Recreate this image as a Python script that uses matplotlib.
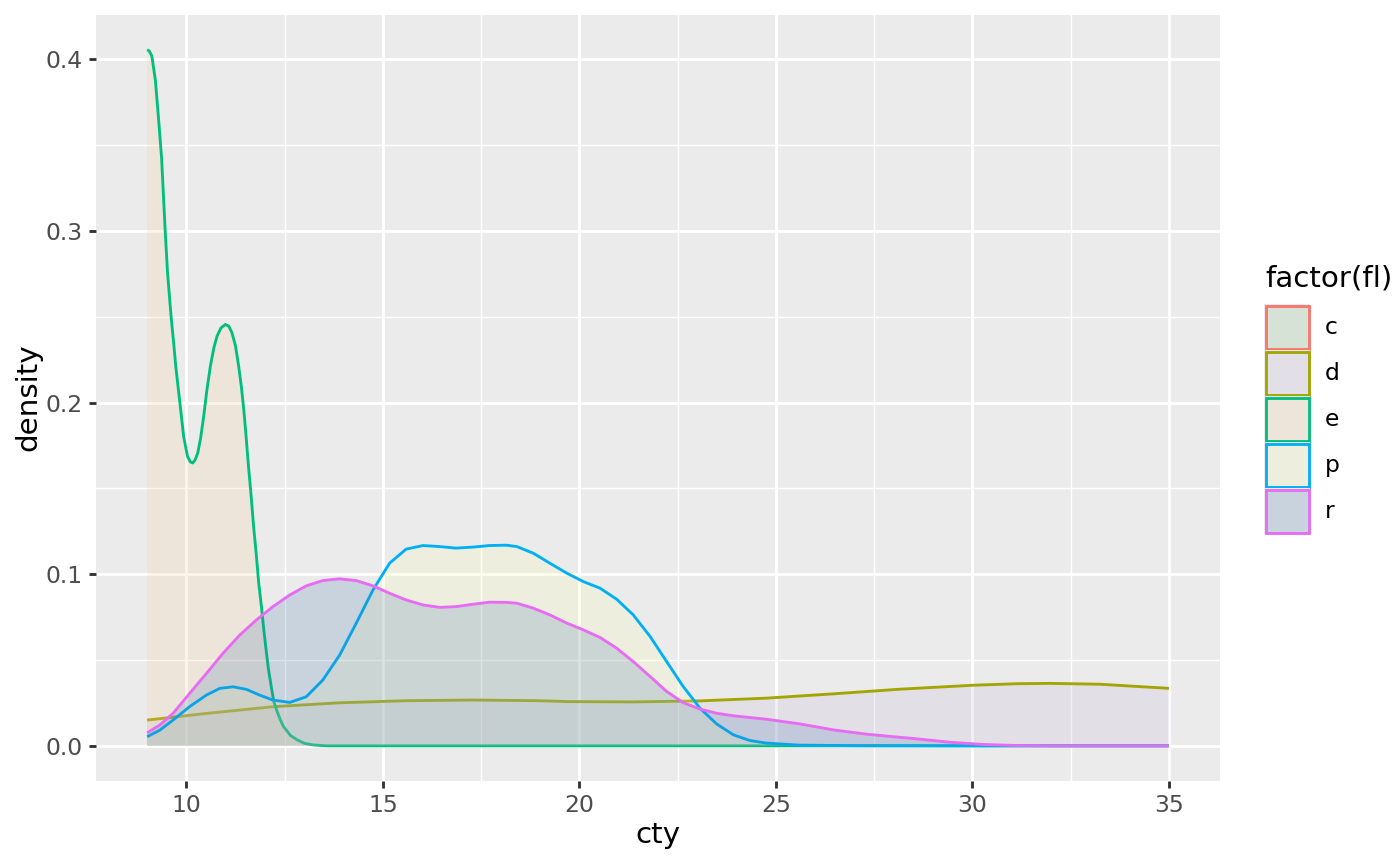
import numpy as np
import matplotlib.pyplot as plt
from matplotlib.patches import Rectangle
from matplotlib.colors import to_rgb

# ============================================================
# density curves of cty by factor(fl)
# (group "c" has a single car, so ggplot draws no curve for it)
# ============================================================
LEVELS = ["c", "d", "e", "p", "r"]
LINE_COLORS = ["#F8766D", "#A3A500", "#00BF7D", "#00B0F6", "#E76BF3"]
FILL_COLORS = ["#7DBE7D", "#BEAFD2", "#FAC896", "#FFFFAA", "#4173AA"]
FILL_ALPHA = 0.2

D_X = [9.0, 10.51, 12.2, 13.9, 15.59, 17.29, 18.98, 19.68, 21.37, 23.07, 24.76,
       26.46, 28.15, 30.0, 31.13, 31.97, 33.25, 35.0]
D_Y = [0.015, 0.0189, 0.0228, 0.0251, 0.0263, 0.0267, 0.0263, 0.0258, 0.0256,
       0.0262, 0.0278, 0.0303, 0.033, 0.0353, 0.0362, 0.0364, 0.0359, 0.0335]

E_X = [9.0, 9.05, 9.12, 9.21, 9.3, 9.37, 9.46, 9.52, 9.61, 9.68, 9.73,
       9.84, 9.93, 10.03, 10.1, 10.16, 10.22, 10.29, 10.36, 10.44, 10.52, 10.61,
       10.7, 10.78, 10.88, 10.99, 11.08, 11.16, 11.25, 11.33, 11.4, 11.46, 11.52,
       11.58, 11.65, 11.71, 11.78, 11.84, 11.91, 11.97, 12.03, 12.09, 12.16,
       12.22, 12.3, 12.39, 12.47, 12.65, 12.82, 13.0, 13.24, 13.6, 20.0, 25.0,
       30.0, 35.0]
E_Y = [0.4055, 0.405, 0.402, 0.388, 0.363, 0.342, 0.3003, 0.2758, 0.2503,
       0.2338, 0.221, 0.1988, 0.1802, 0.1685, 0.1655, 0.1648, 0.1665, 0.1707,
       0.179, 0.192, 0.207, 0.2212, 0.232, 0.2387, 0.2435, 0.2455, 0.2445,
       0.2406, 0.233, 0.2212, 0.209, 0.196, 0.18, 0.1629, 0.145, 0.1279, 0.111,
       0.0949, 0.081, 0.0676, 0.0555, 0.0443, 0.0345, 0.0262, 0.0205, 0.0152,
       0.0113, 0.006, 0.0035, 0.0015, 0.0005, 0.0, 0.0, 0.0, 0.0, 0.0]

P_X = [9.0, 9.32, 9.66, 10.08, 10.51, 10.85, 11.19, 11.53, 11.86, 12.2, 12.63,
       13.05, 13.47, 13.9, 14.32, 14.75, 15.17, 15.59, 16.02, 16.44, 16.86, 17.29,
       17.71, 18.14, 18.41, 18.83, 19.25, 19.68, 20.1, 20.53, 20.95, 21.37, 21.8,
       22.22, 22.64, 23.07, 23.49, 23.92, 24.34, 24.76, 25.61, 27.0, 30.0, 35.0]
P_Y = [0.0053, 0.0091, 0.015, 0.0228, 0.0296, 0.0335, 0.0344, 0.0329, 0.0296,
       0.0267, 0.0253, 0.0286, 0.0383, 0.0529, 0.0714, 0.0909, 0.1064, 0.1146,
       0.1167, 0.1161, 0.1152, 0.1158, 0.1167, 0.1169, 0.1161, 0.1122, 0.1064,
       0.1006, 0.0957, 0.0918, 0.0854, 0.0763, 0.0637, 0.0491, 0.0346, 0.0219,
       0.0128, 0.0064, 0.0031, 0.0016, 0.0004, 0.0001, 0.0, 0.0]

R_X = [9.0, 9.32, 9.66, 10.08, 10.51, 10.93, 11.36, 11.78, 12.2, 12.63, 13.05,
       13.47, 13.9, 14.32, 14.75, 15.17, 15.59, 16.02, 16.44, 16.86, 17.29, 17.71,
       18.14, 18.41, 18.83, 19.25, 19.68, 20.1, 20.53, 20.95, 21.37, 21.8, 22.22,
       22.64, 23.07, 23.49, 23.92, 24.76, 25.61, 26.46, 27.31, 28.15, 28.58, 29.43,
       30.28, 31.13, 32.0, 35.0]
R_Y = [0.0076, 0.0121, 0.0189, 0.0305, 0.0422, 0.0539, 0.0646, 0.0733, 0.0811,
       0.0879, 0.0932, 0.0963, 0.0973, 0.0963, 0.0932, 0.0889, 0.085, 0.0821,
       0.0807, 0.0811, 0.0825, 0.0837, 0.0836, 0.0831, 0.0802, 0.0763, 0.0715,
       0.0676, 0.0631, 0.0569, 0.0491, 0.0404, 0.0317, 0.0252, 0.0214, 0.019,
       0.0175, 0.0155, 0.0128, 0.0093, 0.0068, 0.005, 0.0041, 0.0021, 0.0008,
       0.0002, 0.0, 0.0]

CURVES = {"d": (D_X, D_Y), "e": (E_X, E_Y), "p": (P_X, P_Y), "r": (R_X, R_Y)}

X_TICKS = [10, 15, 20, 25, 30, 35]
Y_TICKS = [0.0, 0.1, 0.2, 0.3, 0.4]

# ============================================================
W, H, DPI = 1400, 866, 192
LW = 1.07          # ggplot linewidth 0.5
BG = "#EBEBEB"


def fx(px):
    return px / W


def fy(py):
    return 1 - py / H


fig = plt.figure(figsize=(W / DPI, H / DPI), dpi=DPI)
ax = fig.add_axes([fx(96), fy(780.7), fx(1220) - fx(96), fy(15) - fy(780.7)])
ax.set_facecolor(BG)
for s in ax.spines.values():
    s.set_visible(False)

ax.set_xlim(7.7, 36.3)
ax.set_ylim(-0.0203, 0.4258)
ax.set_xticks(X_TICKS)
ax.set_yticks(Y_TICKS)
ax.set_xticklabels([str(t) for t in X_TICKS])
ax.set_yticklabels([f"{t:.1f}" for t in Y_TICKS])
ax.set_xticks([12.5, 17.5, 22.5, 27.5, 32.5], minor=True)
ax.set_yticks([0.05, 0.15, 0.25, 0.35], minor=True)
ax.tick_params(which="major", length=2.75, width=LW, color="#333333",
               labelsize=8.8, labelcolor="#4D4D4D", pad=2.2)
ax.tick_params(which="minor", length=0)
ax.grid(which="major", color="white", lw=LW)
ax.grid(which="minor", color="white", lw=LW / 2)
ax.set_axisbelow(True)

# each group: fill then upper outline, in level order
z = 2
for lev, lc, fc in zip(LEVELS, LINE_COLORS, FILL_COLORS):
    if lev not in CURVES:
        continue
    xs, ys = CURVES[lev]
    ax.fill_between(xs, 0, ys, facecolor=fc, alpha=FILL_ALPHA, lw=0, zorder=z)
    ax.plot(xs, ys, color=lc, lw=LW, zorder=z + 0.5, solid_capstyle="butt",
            solid_joinstyle="round")
    z += 1

# axis titles
fig.text(fx(658), fy(835), "cty", fontsize=11, ha="center", va="center")
fig.text(fx(28), fy(397.5), "density", fontsize=11, ha="center", va="center",
         rotation=90)

# legend, drawn like ggplot's keys
fig.text(fx(1265), fy(286), "factor(fl)", fontsize=11, ha="left", va="baseline")
for i, (lev, lc, fc) in enumerate(zip(LEVELS, LINE_COLORS, FILL_COLORS)):
    top = 304 + 46 * i
    bg = Rectangle((fx(1264), fy(top + 46)), fx(46), 46 / H,
                   transform=fig.transFigure, facecolor=BG, lw=0)
    fig.patches.append(bg)
    key = Rectangle((fx(1265.5), fy(top + 44.5)), fx(43), 43 / H,
                    transform=fig.transFigure,
                    facecolor=(*to_rgb(fc), FILL_ALPHA), edgecolor=lc, lw=LW)
    fig.patches.append(key)
    fig.text(fx(1325), fy(top + 23), lev, fontsize=8.8, ha="left", va="center")

fig.savefig("out.png", dpi=DPI)
